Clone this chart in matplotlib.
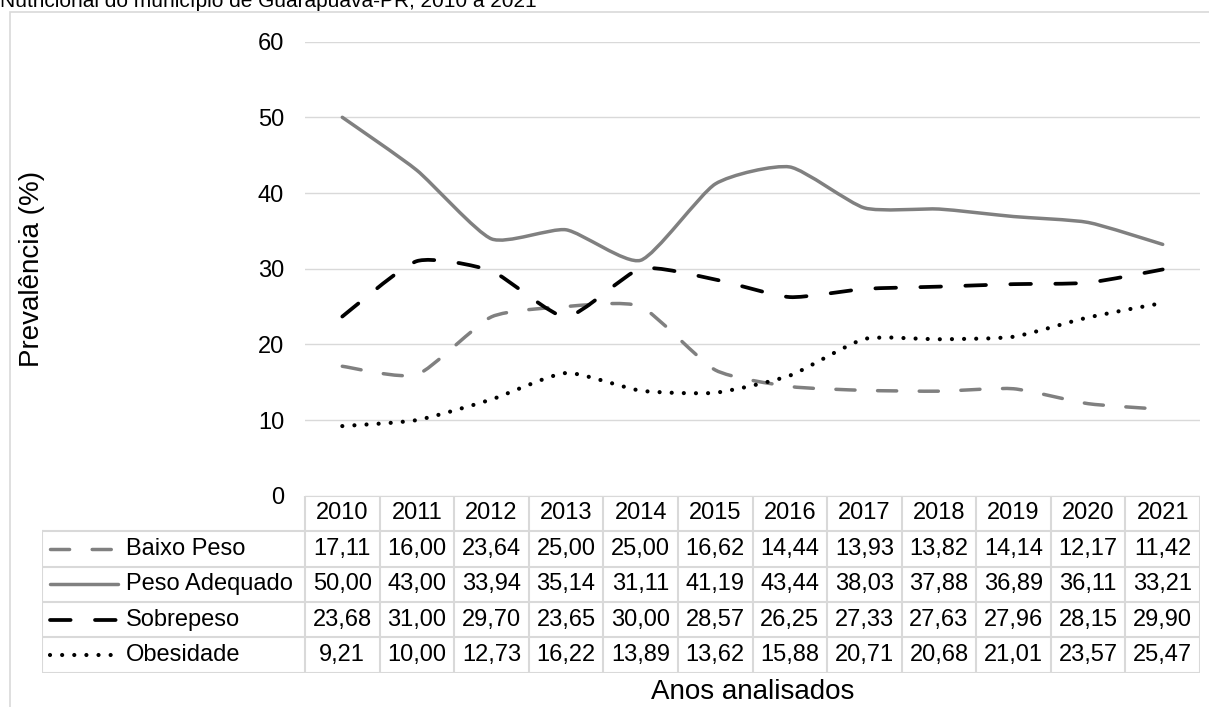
import matplotlib.pyplot as plt
from matplotlib.path import Path
from matplotlib.patches import PathPatch, Rectangle

plt.rcParams['font.family'] = ['Liberation Sans', 'DejaVu Sans']

# dados
anos = ['2010', '2011', '2012', '2013', '2014', '2015', '2016', '2017', '2018', '2019', '2020', '2021']
baixo_peso = [17.11, 16.00, 23.64, 25.00, 25.00, 16.62, 14.44, 13.93, 13.82, 14.14, 12.17, 11.42]
peso_adequado = [50.00, 43.00, 33.94, 35.14, 31.11, 41.19, 43.44, 38.03, 37.88, 36.89, 36.11, 33.21]
sobrepeso = [23.68, 31.00, 29.70, 23.65, 30.00, 28.57, 26.25, 27.33, 27.63, 27.96, 28.15, 29.90]
obesidade = [9.21, 10.00, 12.73, 16.22, 13.89, 13.62, 15.88, 20.71, 20.68, 21.01, 23.57, 25.47]

nomes = ['Baixo Peso', 'Peso Adequado', 'Sobrepeso', 'Obesidade']
series = [baixo_peso, peso_adequado, sobrepeso, obesidade]
estilos = [
    dict(color='#808080', lw=2.5, ls=(0, (5.5, 6.5))),
    dict(color='#808080', lw=2.5, ls='-'),
    dict(color='black', lw=2.7, ls=(0, (5.5, 6.5))),
    dict(color='black', lw=3.0, ls=(0, (0.01, 2.9))),
]

W, H = 1209, 707
FS = 17


def fx(px):
    return px / W


def fy(py):
    return 1 - py / H


def curva_suave(xs, ys, k=10):
    # linha suavizada (Bezier passando pelos pontos, tensao leve)
    pts = list(zip(xs, ys))
    verts = [pts[0]]
    codes = [Path.MOVETO]
    n = len(pts)
    for i in range(n - 1):
        p0 = pts[i - 1] if i > 0 else pts[i]
        p1 = pts[i]
        p2 = pts[i + 1]
        p3 = pts[i + 2] if i + 2 < n else pts[i + 1]
        c1 = (p1[0] + (p2[0] - p0[0]) / k, p1[1] + (p2[1] - p0[1]) / k)
        c2 = (p2[0] - (p3[0] - p1[0]) / k, p2[1] - (p3[1] - p1[1]) / k)
        verts += [c1, c2, p2]
        codes += [Path.CURVE4] * 3
    return Path(verts, codes)


fig = plt.figure(figsize=(W / 100, H / 100), dpi=100)

# moldura
fig.patches.append(Rectangle((fx(10), fy(H + 20)), fx(W + 20), (H + 8) / H,
                             transform=fig.transFigure, fill=False,
                             edgecolor='#d9d9d9', lw=1.2))

fig.text(fx(0), fy(7), 'Nutricional do município de Guarapuava-PR, 2010 a 2021',
         fontsize=15, ha='left', va='baseline')

left, right, top, bottom = 305, 1200, 41.6, 495.8
ax = fig.add_axes([fx(left), fy(bottom), fx(right - left), (bottom - top) / H])
ax.set_xlim(-0.5, len(anos) - 0.5)
ax.set_ylim(0, 60)
ax.set_yticks(range(0, 61, 10))
ax.set_xticks([])
ax.tick_params(axis='y', length=0, pad=15, labelsize=FS)
ax.yaxis.grid(True, color='#d9d9d9', lw=1)
ax.set_axisbelow(True)
for s in ax.spines.values():
    s.set_visible(False)

fig.text(fx(32), fy((top + bottom) / 2), 'Prevalência (%)', fontsize=20,
         rotation=90, ha='center', va='center')

xs = list(range(len(anos)))
for vals, st in zip(series, estilos):
    patch = PathPatch(curva_suave(xs, vals), fill=False, edgecolor=st['color'],
                      lw=st['lw'], linestyle=st['ls'], capstyle='round', joinstyle='round')
    ax.add_patch(patch)

# tabela de dados
tleft, tbottom = 41.7, 672.7
unit = (right - left) / len(anos)
tab = fig.add_axes([fx(tleft), fy(tbottom), fx(right - tleft), (tbottom - bottom) / H])
x0 = -0.5 - (left - tleft) / unit
x1 = len(anos) - 0.5
tab.set_xlim(x0, x1)
tab.set_ylim(5, 0)
tab.axis('off')
gc = dict(color='#d9d9d9', lw=1.5, solid_capstyle='projecting')
tab.plot([-0.5, x1], [0, 0], **gc)
for r in range(1, 6):
    tab.plot([x0, x1], [r, r], **gc)
for k in range(len(anos) + 1):
    tab.plot([k - 0.5, k - 0.5], [0, 5], **gc)
tab.plot([x0, x0], [1, 5], **gc)

for j, ano in enumerate(anos):
    tab.text(j, 0.5, ano, ha='center', va='center', fontsize=FS)

kx0 = x0 + (50 - tleft) / unit
kx1 = x0 + (118 - tleft) / unit
tx = x0 + (126 - tleft) / unit
for i, (nome, vals, st) in enumerate(zip(nomes, series, estilos)):
    y = i + 1.5
    tab.plot([kx0, kx1], [y, y], color=st['color'], lw=st['lw'], ls=st['ls'],
             dash_capstyle='round', solid_capstyle='round')
    tab.text(tx, y, nome, ha='left', va='center', fontsize=FS)
    for j, v in enumerate(vals):
        tab.text(j, y, f'{v:.2f}'.replace('.', ','), ha='center', va='center', fontsize=FS)

fig.text(fx((left + right) / 2), fy(692), 'Anos analisados', fontsize=20,
         ha='center', va='center')

fig.savefig('out.png', dpi=100)
